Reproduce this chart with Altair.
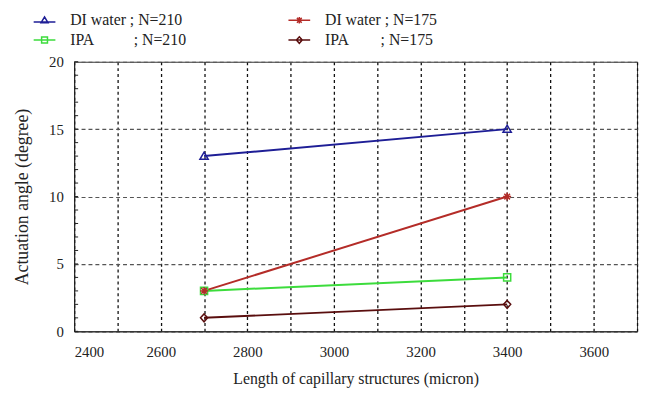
import altair as alt
import pandas as pd

NB = "\u00a0"

# ---- data ----
lengths = [2700, 3400]
di_210 = [13, 15]
di_175 = [3, 10]
ipa_210 = [3, 4]
ipa_175 = [1, 2]

name_di_210 = "DI" + NB + "water" + NB + ";" + NB + "N=210"
name_ipa_210 = "IPA" + NB * 10 + ";" + NB + "N=210"
name_di_175 = "DI" + NB + "water" + NB + ";" + NB + "N=175"
name_ipa_175 = NB + "IPA" + NB * 8 + ";" + NB + "N=175"

# legend is filled column by column: left column = N=210, right column = N=175
series_names = [name_di_210, name_ipa_210, name_di_175, name_ipa_175]
series_values = [di_210, ipa_210, di_175, ipa_175]
series_colors = ["#1e1e96", "#3cdc3c", "#b42c28", "#5a0e0e"]

# marker shapes (unit box) and legend symbols (line + small marker)
marker_paths = [
    "M0,-1L1.05,0.8L-1.05,0.8Z",
    "M-0.9,-0.9H0.9V0.9H-0.9Z",
    "M-1,0H1M0,-1V1M-0.72,-0.72L0.72,0.72M-0.72,0.72L0.72,-0.72",
    "M0,-1L0.9,0L0,1L-0.9,0Z",
]
legend_paths = [
    "M-1,0.15H1M0,-0.3L0.32,0.22L-0.32,0.22Z",
    "M-1,0H1M-0.27,-0.27H0.27V0.27H-0.27Z",
    "M-1,0H1M0,-0.3V0.3M-0.22,-0.22L0.22,0.22M-0.22,0.22L0.22,-0.22",
    "M-1,0H1M0,-0.3L0.27,0L0,0.3L-0.27,0Z",
]

y_minor = list(range(0, 21))
x_ticks = list(range(2400, 3701, 100))
y_ticks = [0, 5, 10, 15, 20]

rows = []
for name, vals in zip(series_names, series_values):
    for xv, yv in zip(lengths, vals):
        rows.append({"series": name, "length": xv, "angle": yv})
df = pd.DataFrame(rows)
minor_df = pd.DataFrame({"m": y_minor})

FONT = "Liberation Serif"
TXT = "#222222"

x_enc = alt.X(
    "length:Q",
    scale=alt.Scale(domain=[2400, 3700], nice=False, zero=False),
    axis=alt.Axis(
        values=x_ticks,
        format="d",
        labelExpr="(datum.value % 200 == 0 && datum.value < 3700) ? datum.label : ''",
        grid=True, gridColor="#111111", gridDash=[3, 3], gridWidth=1.3,
        ticks=False, domainColor="#222222",
        labelFont=FONT, labelFontSize=15, labelColor=TXT, labelPadding=13,
        title="Length of capillary structures  (micron)",
        titleFont=FONT, titleFontSize=16, titleFontWeight="normal",
        titleColor=TXT, titlePadding=12,
    ),
)
y_enc = alt.Y(
    "angle:Q",
    scale=alt.Scale(domain=[0, 20], nice=False),
    axis=alt.Axis(
        values=y_ticks,
        grid=True, gridColor="#555555", gridDash=[4, 3], gridWidth=1.2,
        ticks=False, domainColor="#222222",
        labelFont=FONT, labelFontSize=15, labelColor=TXT, labelPadding=11,
        title="Actuation angle  (degree)",
        titleFont=FONT, titleFontSize=18, titleFontWeight="normal",
        titleColor=TXT, titlePadding=17,
    ),
)

color_scale = alt.Scale(domain=series_names, range=series_colors)

lines = alt.Chart(df).mark_line(strokeWidth=2).encode(
    x=x_enc, y=y_enc,
    color=alt.Color("series:N", scale=color_scale, legend=None),
    detail="series:N",
)

points = alt.Chart(df).mark_point(filled=False, strokeWidth=1.5, size=64, opacity=1).encode(
    x="length:Q", y="angle:Q",
    color=alt.Color("series:N", scale=color_scale, legend=None),
    shape=alt.Shape("series:N", scale=alt.Scale(domain=series_names, range=marker_paths), legend=None),
)

legend_props = dict(
    title=None, orient="none", legendX=-42, legendY=-54, columns=2,
    labelFont=FONT, labelFontSize=16, labelColor=TXT,
    symbolSize=484, symbolStrokeWidth=1.5, symbolOpacity=1,
    labelOffset=14, columnPadding=100, rowPadding=0, padding=0,
    labelLimit=400,
)

legend_layer = alt.Chart(df).mark_point(filled=False, strokeWidth=1.5, opacity=0).encode(
    x="length:Q", y="angle:Q",
    color=alt.Color("series:N", scale=color_scale, legend=alt.Legend(**legend_props)),
    shape=alt.Shape(
        "series:N", scale=alt.Scale(domain=series_names, range=legend_paths),
        legend=alt.Legend(**legend_props),
    ),
)

minor_ticks = alt.Chart(minor_df).mark_rule(color="#222222", strokeWidth=1).encode(
    y=alt.Y("m:Q"),
    x=alt.value(0),
    x2=alt.value(4),
)

chart = (
    alt.layer(lines, points, minor_ticks, legend_layer)
    .resolve_scale(color="independent", shape="independent")
    .properties(
        width=570, height=273,
        autosize=alt.AutoSizeParams(type="none"),
        padding={"left": 67, "top": 52, "right": 4, "bottom": 58},
        background="white",
    )
    .configure_view(stroke="#333333", strokeWidth=1)
)

chart.save("out.html", embed_options={"renderer": "svg", "actions": False})
